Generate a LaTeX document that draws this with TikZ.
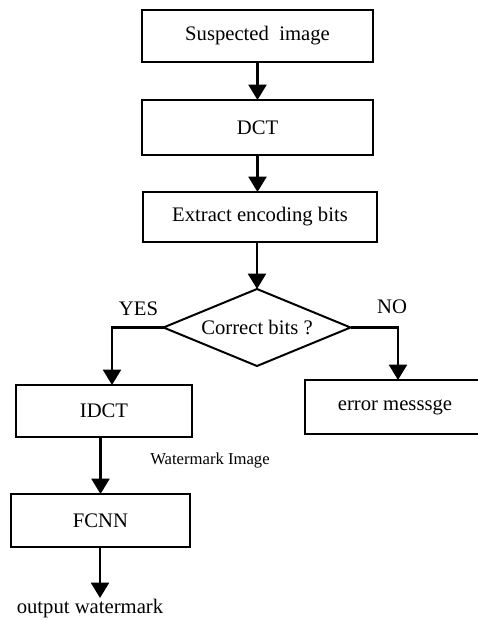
\documentclass[tikz,border=0pt]{standalone}
\usepackage{fontspec}
\setmainfont{Liberation Serif}
\usetikzlibrary{shapes.geometric,arrows.meta}
\begin{document}
\begin{tikzpicture}[x=0.75pt,y=-0.75pt,
  box/.style={draw,line width=1.5pt,inner sep=0pt,outer sep=0pt,font=\fontsize{15.5}{18}\selectfont},
  arr/.style={line width=1.6pt,-{Triangle[width=13.5pt,length=11.5pt]}},
  lbl/.style={inner sep=0pt,font=\fontsize{15.5}{18}\selectfont},
  small/.style={inner sep=0pt,font=\fontsize{12.5}{15}\selectfont}]
\useasboundingbox (0,0) rectangle (478,621);
\clip (0,0) rectangle (478,621);
\node[box,minimum width=173.25pt,minimum height=39pt] (sus) at (257.5,36) {Suspected\ \ image};
\node[box,minimum width=173.25pt,minimum height=41.25pt] (dct) at (257.5,127.5) {DCT};
\node[box,minimum width=175.5pt,minimum height=37.5pt] (ext) at (260,217) {Extract encoding bits};
\node[box,diamond,shape aspect=2.43,minimum width=140.25pt,minimum height=57.75pt] (dia) at (257,327.5) {Correct bits ?};
\node[box,minimum width=132pt,minimum height=39pt] (idct) at (104,411) {IDCT};
\node[box,minimum width=135pt,minimum height=40.5pt] (err) at (395,407) {error messsge};
\node[box,minimum width=134.25pt,minimum height=39.75pt] (fcnn) at (100.5,520.5) {FCNN};
\node[small] (wm) at (210,461) {Watermark Image};
\node[lbl] (out) at (90,609) {output watermark};
\node[lbl] (yes) at (138.5,309) {YES};
\node[lbl] (no) at (392,307) {NO};
\coordinate (yesend) at (112,385);
\coordinate (noend) at (398,380);
\coordinate (outtip) at (100,598);
\draw[arr] (sus.south) -- (dct.north);
\draw[arr] (dct.south) -- (dct.south |- ext.north);
\draw[arr] (ext.south -| dia.north) -- (dia.north);
\draw[arr] (dia.west) -| (yesend);
\draw[arr] (dia.east) -| (noend);
\draw[arr] (idct.south -| fcnn.north) -- (fcnn.north);
\draw[arr] (fcnn.south -| outtip) -- (outtip);
\end{tikzpicture}
\end{document}
